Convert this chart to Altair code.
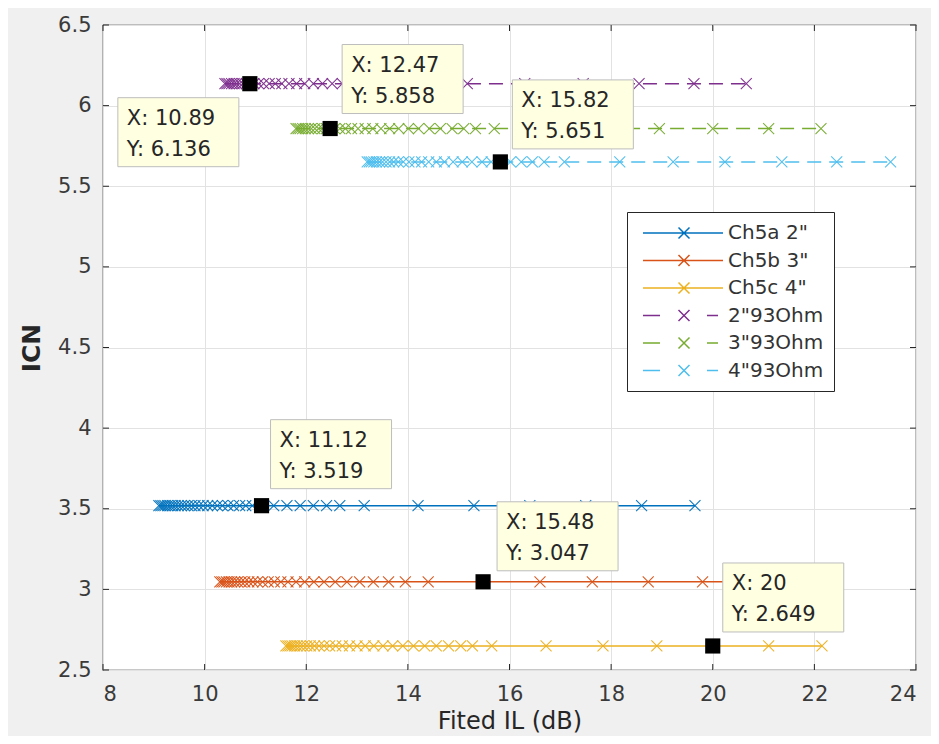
import altair as alt
import pandas as pd

# ---------------- data ----------------
series = ['Ch5a 2"', 'Ch5b 3"', 'Ch5c 4"', '2"93Ohm', '3"93Ohm', '4"93Ohm']
icn = [3.519, 3.047, 2.649, 6.136, 5.858, 5.651]
colors = ["#0072BD", "#D95319", "#EDB120", "#7E2F8E", "#77AC30", "#4DBEEE"]
dashed = [False, False, False, True, True, True]

il_ch5a = [9.10, 9.14, 9.18, 9.22, 9.27, 9.32, 9.37, 9.42, 9.48, 9.54, 9.60, 9.67,
           9.74, 9.81, 9.89, 9.97, 10.06, 10.15, 10.25, 10.35, 10.46, 10.57, 10.69,
           10.81, 10.94, 11.12, 11.36, 11.62, 11.88, 12.14, 12.40, 12.66, 13.14,
           14.20, 15.30, 16.40, 17.50, 18.60, 19.65]
il_ch5b = [10.30, 10.34, 10.38, 10.43, 10.48, 10.53, 10.59, 10.65, 10.72, 10.79,
           10.87, 10.95, 11.04, 11.14, 11.25, 11.37, 11.50, 11.64, 11.80, 11.97,
           12.15, 12.35, 12.57, 12.80, 13.05, 13.32, 13.62, 13.95, 14.40, 15.48,
           16.60, 17.63, 18.73, 19.80, 20.90, 21.95]
il_ch5c = [11.60, 11.64, 11.68, 11.72, 11.77, 11.82, 11.88, 11.94, 12.01, 12.08,
           12.16, 12.25, 12.35, 12.46, 12.58, 12.71, 12.85, 13.00, 13.16, 13.33,
           13.51, 13.70, 13.90, 14.11, 14.33, 14.56, 14.80, 15.04, 15.27, 15.65,
           16.72, 17.84, 18.90, 20.00, 21.10, 22.15]
il_2in93 = [10.40, 10.44, 10.48, 10.53, 10.58, 10.63, 10.69, 10.75, 10.82, 10.89,
            10.97, 11.06, 11.16, 11.27, 11.39, 11.52, 11.66, 11.81, 11.97, 12.14,
            12.32, 12.51, 12.71, 13.05, 13.50, 14.05, 15.17, 16.30, 17.45, 18.55,
            19.63, 20.66]
il_3in93 = [11.80, 11.84, 11.88, 11.93, 11.98, 12.04, 12.10, 12.17, 12.24, 12.32,
            12.40, 12.47, 12.56, 12.66, 12.77, 12.89, 13.02, 13.16, 13.31, 13.47,
            13.64, 13.82, 14.01, 14.21, 14.42, 14.64, 14.87, 15.10, 15.33, 15.70,
            16.80, 17.90, 18.95, 20.00, 21.10, 22.13]
il_4in93 = [13.20, 13.24, 13.28, 13.33, 13.38, 13.44, 13.50, 13.57, 13.64, 13.72,
            13.81, 13.91, 14.02, 14.14, 14.27, 14.41, 14.56, 14.72, 14.89, 15.07,
            15.26, 15.46, 15.64, 15.82, 16.02, 16.23, 16.45, 16.68, 17.08, 18.17,
            19.22, 20.24, 21.36, 22.44, 23.50]
il_all = [il_ch5a, il_ch5b, il_ch5c, il_2in93, il_3in93, il_4in93]

tip_x = [10.89, 12.47, 15.82, 11.12, 15.48, 20.0]
tip_y = [6.136, 5.858, 5.651, 3.519, 3.047, 2.649]

x_ticks = [8, 10, 12, 14, 16, 18, 20, 22, 24]
y_ticks = [2.5, 3, 3.5, 4, 4.5, 5, 5.5, 6, 6.5]

# ---------------- tables ----------------
rows = []
for s, yv, c, d, xs_ in zip(series, icn, colors, dashed, il_all):
    for xv in xs_:
        rows.append({"series": s, "il": xv, "icn": yv, "color": c, "dashed": d})
df = pd.DataFrame(rows)

df_tips = pd.DataFrame({
    "x": tip_x,
    "y": tip_y,
    "label": [f"X: {a:.4g}\nY: {b:.4g}" for a, b in zip(tip_x, tip_y)],
})
df_xt = pd.DataFrame({"t": x_ticks})
df_yt = pd.DataFrame({"t": y_ticks})

W, H = 813, 645
FONT = "DejaVu Sans"
TXT = "#262626"

xs = alt.Scale(domain=[8, 24], nice=False, zero=False)
ys = alt.Scale(domain=[2.5, 6.5], nice=False, zero=False)

X = alt.X("il:Q", scale=xs, axis=alt.Axis(
    values=x_ticks, title="Fited IL (dB)", grid=True, domain=False, ticks=False,
    labelPadding=13, titlePadding=5, titleFontSize=24))
Y = alt.Y("icn:Q", scale=ys, axis=alt.Axis(
    values=y_ticks, format="~g", title="ICN", grid=True, domain=False, ticks=False,
    labelPadding=12, titlePadding=13, titleFontSize=25, titleFontWeight=600))

xpath = "M-1,-1L1,1M-1,1L1,-1"
leg_solid = "M-0.5,0H7.5M3.05,-0.55L4.15,0.55M3.05,0.55L4.15,-0.55"
leg_dash = ("M-0.5,0H1.2M5.9,0H7.0"
            "M3.05,-0.55L4.15,0.55M3.05,0.55L4.15,-0.55")

base = alt.Chart(df)

solid_lines = base.transform_filter("!datum.dashed").mark_line(
    strokeWidth=1.5).encode(
    x=X, y=Y, detail="series:N", color=alt.Color("color:N", scale=None))
dash_lines = base.transform_filter("datum.dashed").mark_line(
    strokeWidth=1.5, strokeDash=[14, 8]).encode(
    x=X, y=Y, detail="series:N", color=alt.Color("color:N", scale=None))
markers = base.mark_point(shape=xpath, size=121, strokeWidth=1.1, filled=False,
                          opacity=0.95).encode(
    x=X, y=Y, color=alt.Color("color:N", scale=None))

legend_layer = base.mark_point(filled=False, opacity=0).encode(
    x=X, y=Y,
    color=alt.Color("series:N", scale=alt.Scale(domain=series, range=colors),
                    legend=alt.Legend(
                        title=None, orient="none", legendX=524, legendY=187,
                        symbolSize=400, symbolStrokeWidth=1.5, symbolOpacity=1,
                        labelFontSize=20, labelFont=FONT, labelColor="#333333",
                        labelOffset=69, rowPadding=6.5, padding=10,
                        strokeColor="#262626", fillColor="white",
                        labelLimit=300)),
    shape=alt.Shape("series:N", scale=alt.Scale(
        domain=series, range=[leg_solid] * 3 + [leg_dash] * 3)),
)

tip_squares = alt.Chart(df_tips).mark_square(size=230, color="black", opacity=1).encode(
    x=alt.X("x:Q", scale=xs), y=alt.Y("y:Q", scale=ys))

# box placement relative to the data point (pixels): left, top
tip_box = [(-132, 14), (12, -84), (12, -82), (9, -86), (14, -80), (10, -83)]
BW, BH = 121, 69
tip_layers = []
for i, (bx, by) in enumerate(tip_box):
    one = alt.Chart(df_tips.iloc[[i]])
    rect = one.mark_rect(fill="#ffffe2", stroke="#bdbdbd", strokeWidth=1,
                         xOffset=bx, x2Offset=bx + BW,
                         yOffset=by, y2Offset=by + BH).encode(
        x=alt.X("x:Q", scale=xs), x2="x:Q",
        y=alt.Y("y:Q", scale=ys), y2="y:Q")
    txt = one.mark_text(align="left", baseline="top", dx=bx + 9, dy=by + 10,
                        lineBreak="\n", lineHeight=31, fontSize=21, font=FONT,
                        color=TXT).encode(
        x=alt.X("x:Q", scale=xs), y=alt.Y("y:Q", scale=ys), text="label:N")
    tip_layers += [rect, txt]

# inward MATLAB-style tick marks on all four sides
xt_b = alt.Chart(df_xt).mark_rule(color=TXT, strokeWidth=1).encode(
    x=alt.X("t:Q", scale=xs), y=alt.value(H), y2=alt.value(H - 6))
xt_t = alt.Chart(df_xt).mark_rule(color=TXT, strokeWidth=1).encode(
    x=alt.X("t:Q", scale=xs), y=alt.value(0), y2=alt.value(6))
yt_l = alt.Chart(df_yt).mark_rule(color=TXT, strokeWidth=1).encode(
    y=alt.Y("t:Q", scale=ys), x=alt.value(0), x2=alt.value(6))
yt_r = alt.Chart(df_yt).mark_rule(color=TXT, strokeWidth=1).encode(
    y=alt.Y("t:Q", scale=ys), x=alt.value(W), x2=alt.value(W - 6))

chart = alt.layer(
    legend_layer, solid_lines, dash_lines, markers, tip_squares, *tip_layers,
    xt_b, xt_t, yt_l, yt_r
).properties(
    width=W, height=H,
    autosize=alt.AutoSizeParams(type="none"),
    padding={"left": 95, "top": 17, "right": 15, "bottom": 66},
    background="#f0f0f0",
).configure_view(
    fill="white", stroke="#262626", strokeWidth=1.2
).configure_axis(
    labelFont=FONT, titleFont=FONT, labelFontSize=21,
    labelColor="#3a3a3a", titleColor=TXT, titleFontWeight="normal",
    gridColor="#e2e2e2", gridWidth=1
)

chart.save("out.html", embed_options={"renderer": "svg", "actions": False})
